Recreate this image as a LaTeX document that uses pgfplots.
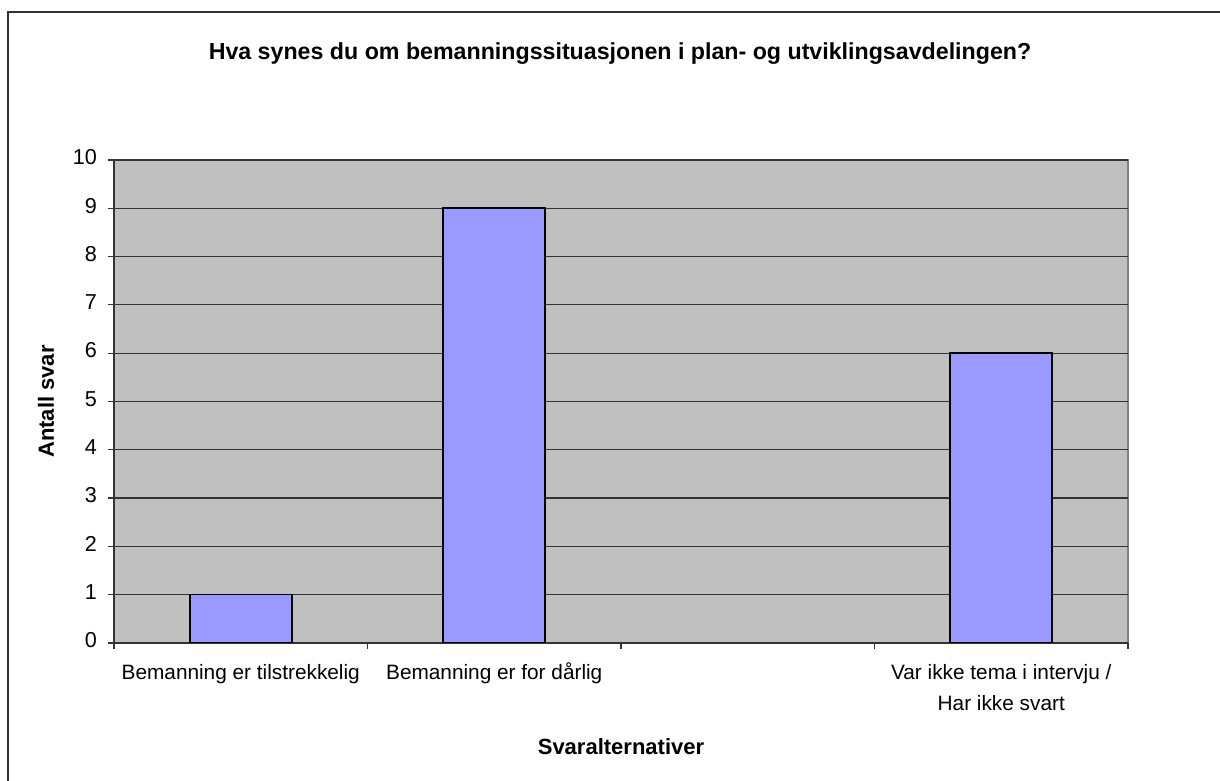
\documentclass[border=0pt]{standalone}
\usepackage{pgfplots}
\pgfplotsset{compat=1.18}
\usepackage{fontspec}
\setmainfont{Liberation Sans}
\definecolor{bgray}{HTML}{C0C0C0}
\definecolor{barblue}{HTML}{9999FF}
\definecolor{framegray}{HTML}{808080}
\begin{document}
\begin{tikzpicture}[x=1pt,y=1pt]
\useasboundingbox (0,0) rectangle (610,390.5);
\draw[line width=1pt, black!80] (4,-5) -- (4,384.5) -- (615,384.5);
\node[font=\bfseries\fontsize{11.6}{13}\selectfont] at (310,363.5) {Hva synes du om bemanningssituasjonen i plan- og utviklingsavdelingen?};
\begin{axis}[
  at={(57pt,69pt)}, anchor=south west,
  scale only axis, width=507pt, height=241.5pt,
  xmin=-0.5, xmax=3.5, ymin=0, ymax=10,
  axis x line*=bottom, axis y line*=left,
  axis line style={-, line width=0.9pt, black!80},
  axis background/.style={fill=bgray, draw=framegray, line width=1.2pt},
  ytick={0,1,...,10},
  ymajorgrids, grid style={line width=0.6pt, black!80},
  tick align=outside, major tick length=3pt,
  tick style={line width=0.6pt, black!80},
  xtick={-0.5,0.5,1.5,2.5,3.5},
  xticklabels={},
  extra x ticks={0,1,2,3},
  extra x tick labels={Bemanning er tilstrekkelig, Bemanning er for dårlig, {}, {Var ikke tema i intervju /\\Har ikke svart}},
  extra x tick style={major tick length=0pt, grid=none,
    xticklabel style={font=\fontsize{10.4}{15.5}\selectfont, align=center, yshift=-4pt}},
  typeset ticklabels with strut,
  yticklabel style={font=\fontsize{10.8}{12}\selectfont, xshift=-2pt},
  /pgf/number format/assume math mode=true,
  xlabel={\bfseries Svaralternativer},
  xlabel style={font=\fontsize{11}{13}\selectfont, at={(axis description cs:0.5,0)}, anchor=center, yshift=-52pt},
  ylabel={\bfseries Antall svar},
  ylabel style={font=\fontsize{11}{13}\selectfont, at={(axis description cs:-0.067,0.5)}, anchor=center},
  ybar, bar width=51pt,
]
\addplot[fill=barblue, draw=black, line width=0.8pt] coordinates {(0,1) (1,9) (3,6)};
\end{axis}
\end{tikzpicture}
\end{document}
